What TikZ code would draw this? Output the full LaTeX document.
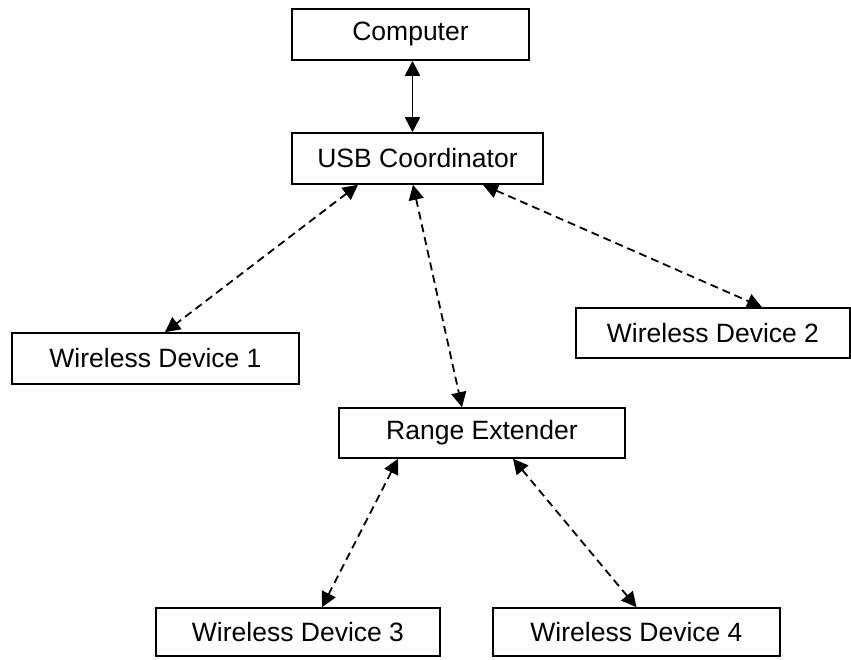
\documentclass[tikz,border=0pt]{standalone}
\usepackage{fontspec}
\setmainfont{Liberation Sans}
\usetikzlibrary{arrows.meta}
\begin{document}
\begin{tikzpicture}[x=1pt,y=-1pt,
  box/.style={draw, line width=1.6pt, inner sep=0pt, anchor=center,
    font=\fontsize{26.5}{30}\selectfont},
  link/.style={line width=1.8pt, {Triangle[length=15pt,width=15pt]}-{Triangle[length=15pt,width=15pt]}},
  wireless/.style={link, dash pattern=on 8pt off 5pt}]
\useasboundingbox (0,0) rectangle (851,660);
\fill[white] (0,0) rectangle (851,660);

\node[box, minimum width=237pt, minimum height=51pt] (comp) at (410.5,34.5) {Computer};
\node[box, minimum width=251pt, minimum height=51pt] (usb) at (417.5,158.5) {USB Coordinator};
\node[box, minimum width=287pt, minimum height=51pt] (wd1) at (155.5,358.5) {Wireless Device 1};
\node[box, minimum width=274pt, minimum height=50pt] (wd2) at (713,333) {Wireless Device 2};
\node[box, minimum width=286pt, minimum height=50pt] (re) at (482,433) {Range Extender};
\node[box, minimum width=284pt, minimum height=48pt] (wd3) at (298,632) {Wireless Device 3};
\node[box, minimum width=287pt, minimum height=48pt] (wd4) at (636.5,632) {Wireless Device 4};

% wired link
\draw[link] ([xshift=2pt]comp.south) -- ([xshift=2pt]comp.south |- usb.north);
% radio links
\draw[wireless] ([xshift=-59.5pt]usb.south) -- ([xshift=9.5pt]wd1.north);
\draw[wireless] ([xshift=65.5pt]usb.south) -- ([xshift=49pt]wd2.north);
\draw[wireless] ([xshift=-4.5pt]usb.south) -- ([xshift=-20pt]re.north);
\draw[wireless] ([xshift=-84pt]re.south) -- ([xshift=24pt]wd3.north);
\draw[wireless] ([xshift=31pt]re.south) -- (wd4.north);
\end{tikzpicture}
\end{document}
